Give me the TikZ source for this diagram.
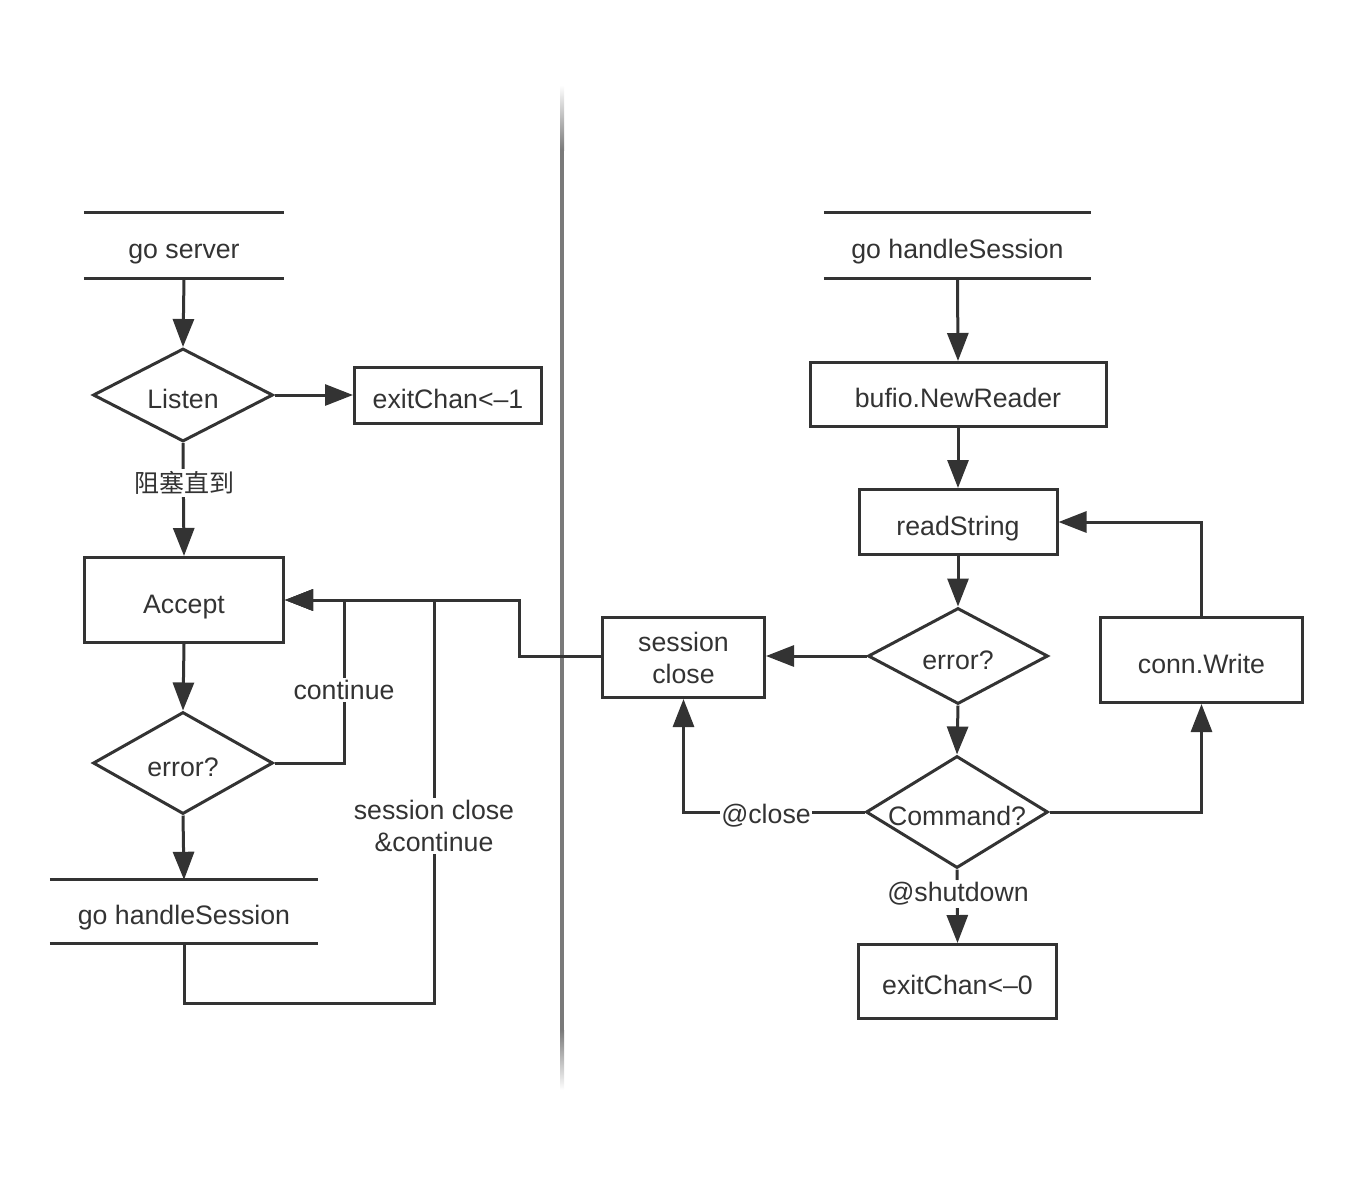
\documentclass[tikz,border=0pt]{standalone}
\usepackage{fontspec}
\setmainfont{Liberation Sans}
\newfontfamily\cjk{Noto Sans CJK SC}
\usetikzlibrary{arrows.meta,shapes.geometric}
\definecolor{ink}{HTML}{333333}
\definecolor{sep}{HTML}{7A7A7A}
\newcommand\dtx[1]{\raisebox{-13pt}[0pt][0pt]{#1}}
\begin{document}
\begin{tikzpicture}[x=1pt,y=-1pt,
  font=\fontsize{26.7}{32}\selectfont,
  every node/.style={text=ink},
  line/.style={draw=ink,line width=3pt},
  >={Triangle[length=28pt,width=21pt]},
  box/.style={line,rectangle,inner sep=0pt,align=center},
  dia/.style={line,diamond,shape aspect=1.6,inner sep=0pt},
  term/.style={rectangle,inner sep=0pt},
  lbl/.style={fill=white,inner sep=2pt,align=center}]
\useasboundingbox (0,0) rectangle (1354,1176);
% separator
\shade[top color=white,bottom color=sep] (560,85) rectangle (564,150);
\fill[sep] (560,150) rectangle (564,1030);
\shade[top color=sep,bottom color=white] (560,1030) rectangle (564,1090);
% left nodes
\node[term,minimum width=200pt,minimum height=65pt] (gs) at (184,245.5) {\dtx{go server}};
\node[dia,minimum width=180pt,minimum height=93pt] (ls) at (183,395) {\dtx{Listen}};
\node[box,minimum width=187pt,minimum height=56pt] (ex1) at (448,395) {\dtx{exitChan<--1}};
\node[box,minimum width=199pt,minimum height=85pt] (acc) at (184,600) {\dtx{Accept}};
\node[dia,minimum width=180pt,minimum height=102pt] (err1) at (183,763) {\dtx{error?}};
\node[term,minimum width=268pt,minimum height=63pt] (hs1) at (184,911.5) {\dtx{go handleSession}};
% right nodes
\node[term,minimum width=267pt,minimum height=65pt] (gh) at (957.5,245.5) {\dtx{go handleSession}};
\node[box,minimum width=296pt,minimum height=64pt] (buf) at (958,394.5) {\dtx{bufio.NewReader}};
\node[box,minimum width=198pt,minimum height=65pt] (rs) at (958,522) {\dtx{readString}};
\node[dia,minimum width=180pt,minimum height=96pt] (err2) at (958,656) {\dtx{error?}};
\node[box,minimum width=162pt,minimum height=80pt] (sc) at (683.5,657.5) {session\\ close};
\node[box,minimum width=202pt,minimum height=85pt] (cw) at (1201.5,660) {\dtx{conn.Write}};
\node[dia,minimum width=182pt,minimum height=112pt] (cmd) at (957,812) {\dtx{Command?}};
\node[box,minimum width=198pt,minimum height=74pt] (ex0) at (957.5,981.5) {\dtx{exitChan<--0}};
% terminator bars
\foreach \n in {gs,hs1,gh}{
  \draw[line] (\n.north west) -- (\n.north east);
  \draw[line] (\n.south west) -- (\n.south east);
}
% waypoints
\coordinate (c1) at (344,600);
\coordinate (c2) at (434,1003);
\coordinate (c3) at (434,600);
\coordinate (c4) at (519,656);
\coordinate (c5) at (519,600);
% left connectors
\draw[line,->] (gs.south) -- (ls.north);
\draw[line,->] (ls.east) -- (ex1.west);
\draw[line,->] (ls.south) -- (acc.north);
\draw[line,->] (acc.south) -- (err1.north);
\draw[line,->] (err1.south) -- (hs1.north);
\draw[line,->] (err1.east) -| (c1) -- (acc.east);
\draw[line,->] (hs1.south) |- (c2) -- (c3) -- (acc.east);
\draw[line,->] (sc.west |- c4) -- (c4) -- (c5) -- (acc.east);
% right connectors
\draw[line,->] (gh.south) -- (buf.north);
\draw[line,->] (buf.south) -- (rs.north);
\draw[line,->] (rs.south) -- (err2.north);
\draw[line,->] (err2.south) -- (cmd.north);
\draw[line,->] (err2.west) -- (sc.east |- err2.west);
\draw[line,->] (cmd.west) -| (sc.south);
\draw[line,->] (cmd.east) -| (cw.south);
\draw[line,->] (cw.north) |- (rs.east);
\draw[line,->] (cmd.south) -- (ex0.north);
% labels
\node[lbl] (l1) at (184,483) {\fontsize{25}{30}\selectfont\cjk 阻塞直到};
\node[lbl] (l2) at (344,690) {continue};
\node[lbl] (l3) at (434,826) {session close\\ \&continue};
\node[lbl,inner sep=1pt] (l4) at (766,816) {@close};
\node[lbl] (l5) at (958,894) {@shutdown};
\end{tikzpicture}
\end{document}
